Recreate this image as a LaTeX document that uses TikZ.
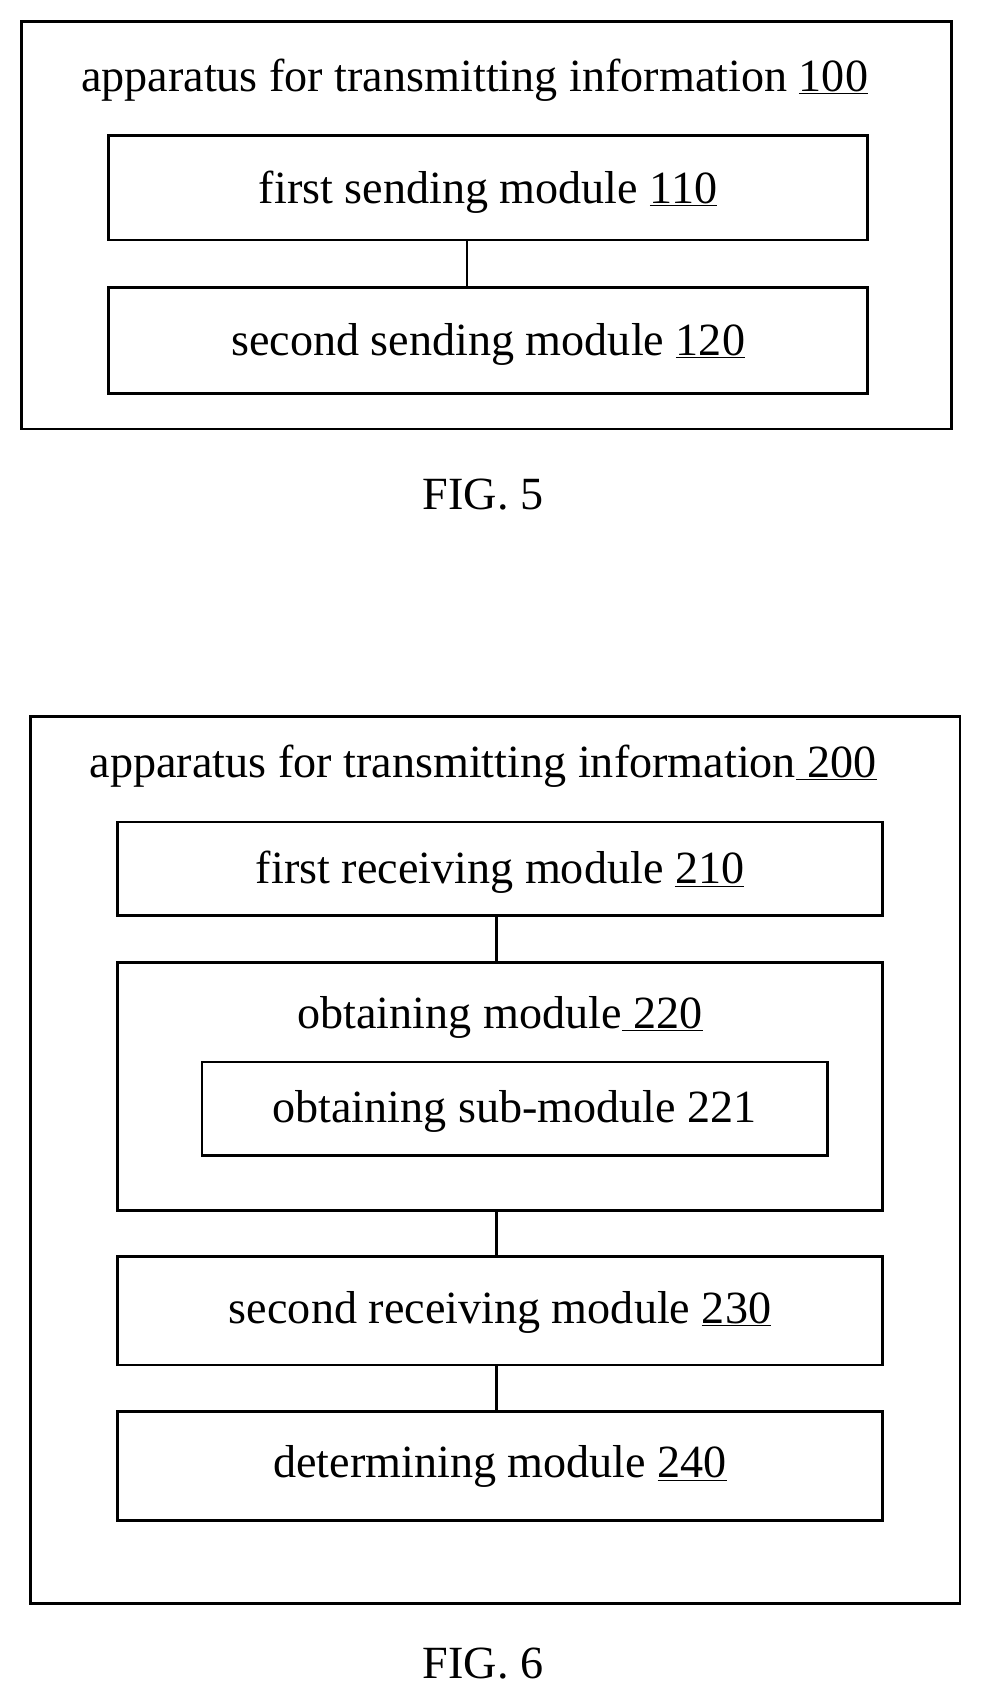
\documentclass[tikz,border=0pt]{standalone}
\usepackage{fontspec}
\setmainfont{Liberation Serif}
\begin{document}
\begin{tikzpicture}[x=1pt,y=-1pt,line width=2.6pt,
  lbl/.style={font=\fontsize{42.5}{46}\selectfont,inner sep=0pt,anchor=base},
  box/.style={draw,inner sep=0pt}]
\useasboundingbox (0,0) rectangle (905,1572);
% FIG 5
\draw (20,20) rectangle (876,395);
\node[lbl] (t1) at (437,84) {apparatus for transmitting information \underline{100}};
\node[box,minimum width=699,minimum height=96] (m110) at (449.5,173) {};
\node[lbl] at (449.5,187) {first sending module \underline{110}};
\node[box,minimum width=699,minimum height=97] (m120) at (449.5,313.5) {};
\node[lbl] at (449.5,327) {second sending module \underline{120}};
\draw (m110.south -| 430,0) -- (m120.north -| 430,0);
\node[lbl] (f5) at (445,469) {FIG. 5};
% FIG 6
\draw (28,660) rectangle (884,1477);
\node[lbl] (t2) at (445,716) {apparatus for transmitting information\underline{\ 200}};
\node[box,minimum width=705,minimum height=86] (m210) at (460.5,800) {};
\node[lbl] at (460.5,814) {first receiving module \underline{210}};
\node[box,minimum width=705,minimum height=229] (m220) at (460.5,1000.5) {};
\node[lbl] at (460.5,947) {obtaining module\underline{\ 220}};
\node[box,minimum width=576,minimum height=86] (m221) at (474,1021) {};
\node[lbl] at (474,1034) {obtaining sub-module 221};
\node[box,minimum width=705,minimum height=100] (m230) at (460.5,1207) {};
\node[lbl] at (460.5,1219) {second receiving module \underline{230}};
\node[box,minimum width=705,minimum height=100] (m240) at (460.5,1350) {};
\node[lbl] at (460.5,1361) {determining module \underline{240}};
\draw (m210.south -| 457,0) -- (m220.north -| 457,0);
\draw (m220.south -| 457,0) -- (m230.north -| 457,0);
\draw (m230.south -| 457,0) -- (m240.north -| 457,0);
\node[lbl] (f6) at (445,1546) {FIG. 6};
\end{tikzpicture}
\end{document}
